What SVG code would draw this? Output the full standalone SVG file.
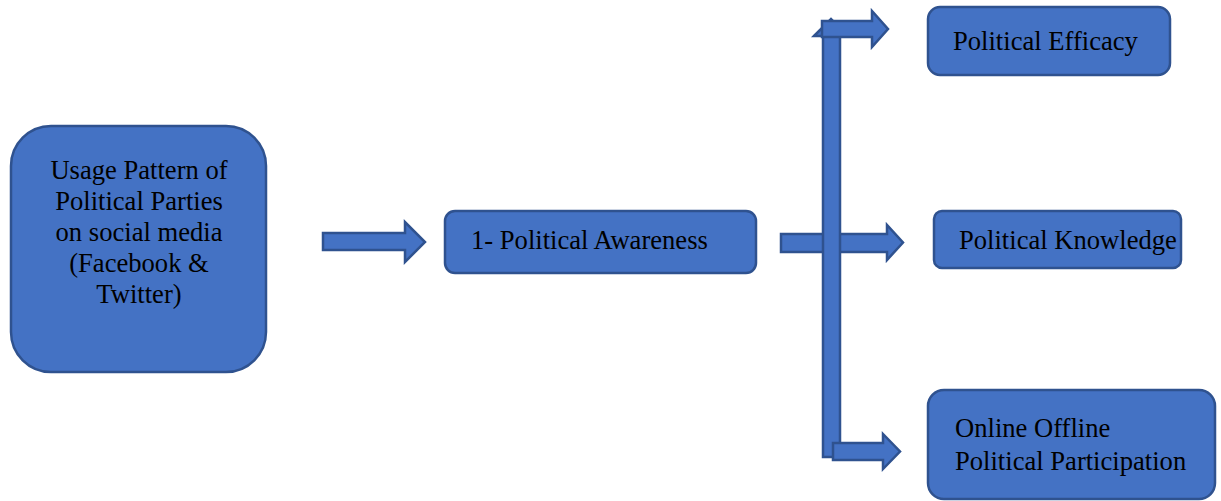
<svg xmlns="http://www.w3.org/2000/svg" width="1221" height="501" viewBox="0 0 1221 501">
<style>
.box{fill:#4472C4;stroke:#2F528F;stroke-width:2.5}
.arr{fill:#4472C4;stroke:#2F528F;stroke-width:2.5;stroke-linejoin:miter}
text{font-family:"Liberation Serif","Times New Roman",serif;font-size:26.6px;fill:#000}
</style>
<rect width="1221" height="501" fill="#fff"/>
<g id="connectors">
<polygon class="arr" points="323,233 405,233 405,222 425,242 405,262 405,250 323,250"/>
<polygon class="arr" points="781,234 887,234 887,225 903,242.5 887,260 887,252 781,252"/>
<polygon class="arr" points="814,36 831,19 848,36"/>
<rect class="arr" x="823" y="30" width="17" height="427"/>
<polygon class="arr" points="822,21 872,21 872,11 888,29 872,47 872,37 822,37"/>
<polygon class="arr" points="833,443 883,443 883,434 900,451.5 883,469 883,460 833,460"/>
</g>
<g id="node-usage">
<rect class="box" x="11" y="126" width="255" height="246" rx="40"/>
<text x="139" y="179" text-anchor="middle">Usage Pattern of</text>
<text x="139" y="210" text-anchor="middle">Political Parties</text>
<text x="139" y="241" text-anchor="middle">on social media</text>
<text x="139" y="272" text-anchor="middle">(Facebook &amp;</text>
<text x="139" y="303" text-anchor="middle">Twitter)</text>
</g>
<g id="node-awareness">
<rect class="box" x="445" y="211" width="311" height="62" rx="10"/>
<text x="471" y="249">1- Political Awareness</text>
</g>
<g id="node-efficacy">
<rect class="box" x="928" y="7" width="242" height="68" rx="12"/>
<text x="953" y="50">Political Efficacy</text>
</g>
<g id="node-knowledge">
<rect class="box" x="934" y="211" width="247" height="57" rx="8"/>
<text x="959" y="249">Political Knowledge</text>
</g>
<g id="node-participation">
<rect class="box" x="928" y="390" width="287" height="109" rx="16"/>
<text x="955" y="437">Online Offline</text>
<text x="955" y="470">Political Participation</text>
</g>
</svg>
